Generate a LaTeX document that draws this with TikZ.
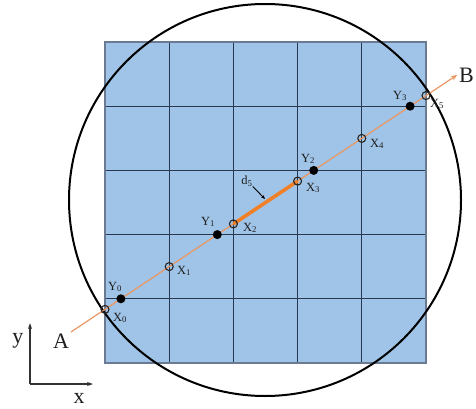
\documentclass[tikz,border=0pt]{standalone}
\usepackage{fontspec}
\setmainfont{Liberation Serif}
\usetikzlibrary{arrows.meta}
\definecolor{cellc}{RGB}{160,196,231}
\definecolor{gridc}{RGB}{40,56,78}
\definecolor{borderc}{RGB}{105,122,145}
\definecolor{thinor}{RGB}{236,150,95}
\definecolor{thickor}{RGB}{240,128,40}
\definecolor{txt}{RGB}{30,30,30}
\begin{document}
\begin{tikzpicture}[x=1pt,y=-1pt,
  gridline/.style={draw=gridc, line width=1.2pt},
  border/.style={draw=borderc, line width=1.4pt},
  ring/.style={draw=black, line width=2pt},
  ray/.style={draw=thinor, line width=1.2pt, -{Stealth[length=6pt,width=5pt]}},
  dseg/.style={draw=thickor, line width=3.6pt},
  xmark/.style={circle, draw=black!85, line width=1.1pt, minimum size=8pt, inner sep=0pt},
  ymark/.style={circle, fill=black, minimum size=9pt, inner sep=0pt},
  lab/.style={text=txt, font=\fontsize{12.5}{13}\selectfont, inner sep=0pt},
  biglab/.style={text=txt, font=\fontsize{22}{24}\selectfont, inner sep=0pt, anchor=base},
  axis/.style={draw=black!80, line width=1.4pt, -{Stealth[length=6pt,width=4pt]}},
  pointer/.style={draw=black, line width=0.9pt, -{Stealth[length=4pt,width=3.5pt]}}]
\useasboundingbox (0,0) rectangle (476,409);
% grid
\fill[cellc] (105,42) rectangle (426,363);
\foreach \i in {1,...,4} {
  \draw[gridline] ({105+64.2*\i},42) -- ({105+64.2*\i},363);
  \draw[gridline] (105,{42+64.2*\i}) -- (426,{42+64.2*\i});
}
\draw[border] (105,42) rectangle (426,363);
% circle
\coordinate (C) at (265,200);
\draw[ring] (C) circle[radius=196pt];
% ray
\coordinate (A0) at (71,332);
\coordinate (B0) at (457,75);
\draw[ray] (A0) -- (B0);
\coordinate (X0) at (105,309.4);
\coordinate (X1) at (169.2,266.6);
\coordinate (X2) at (233.4,223.9);
\coordinate (X3) at (297.6,181.1);
\coordinate (X4) at (361.8,138.4);
\coordinate (X5) at (426,95.6);
\coordinate (Y0) at (120.9,298.8);
\coordinate (Y1) at (217.3,234.6);
\coordinate (Y2) at (313.7,170.4);
\coordinate (Y3) at (410.1,106.2);
\draw[dseg] (X2) -- (X3);
\foreach \p in {0,...,5} { \node[xmark] (mX\p) at (X\p) {}; }
\foreach \p in {0,...,3} { \node[ymark] (mY\p) at (Y\p) {}; }
% labels
\node[lab] (lX0) at (120,318) {X\textsubscript{0}};
\node[lab] (lX1) at (184,271) {X\textsubscript{1}};
\node[lab] (lX2) at (250,228) {X\textsubscript{2}};
\node[lab] (lX3) at (313,188) {X\textsubscript{3}};
\node[lab] (lX4) at (377,144) {X\textsubscript{4}};
\node[lab] (lX5) at (437,104) {X\textsubscript{5}};
\node[lab] (lY0) at (115,287) {Y\textsubscript{0}};
\node[lab] (lY1) at (208,222) {Y\textsubscript{1}};
\node[lab] (lY2) at (308,159) {Y\textsubscript{2}};
\node[lab] (lY3) at (400,96) {Y\textsubscript{3}};
\node[lab] (d5) at (247,181) {d\textsubscript{5}};
\coordinate (d5tip) at (265,199);
\draw[pointer] (d5.south east) -- (d5tip);
\node[biglab] (lA) at (61,348) {A};
\node[biglab, anchor=base west] (lB) at (459,83) {B};
% axes
\coordinate (O) at (30,384);
\coordinate (YA) at (30,323);
\coordinate (XA) at (93,384);
\draw[axis] (O) -- (YA);
\draw[axis] (O) -- (XA);
\node[biglab] (ly) at (18,343) {y};
\node[biglab] (lx) at (79,403) {x};
\end{tikzpicture}
\end{document}
